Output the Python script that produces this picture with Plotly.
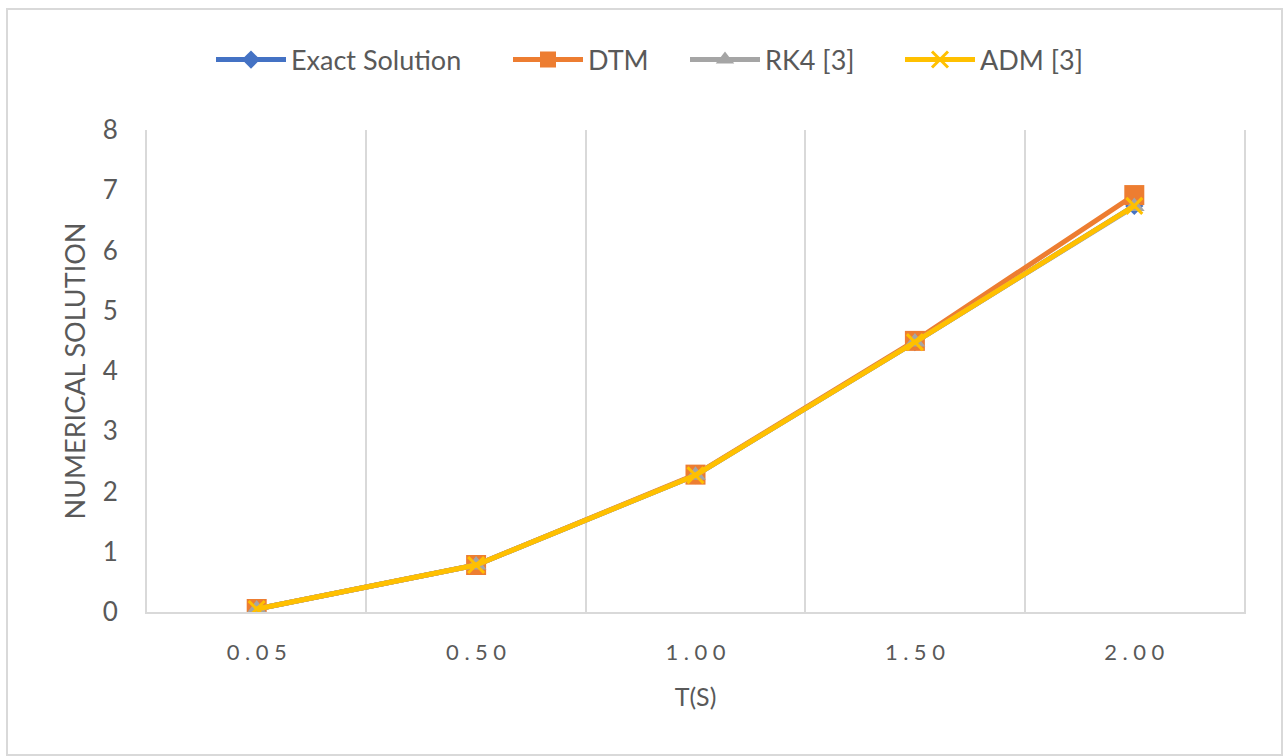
import plotly.graph_objects as go

# Time points (categories on the x axis)
t_labels = ["0.05", "0.50", "1.00", "1.50", "2.00"]

# Numerical solutions for each method
exact_solution = [0.05, 0.78, 2.27, 4.48, 6.74]
dtm = [0.05, 0.78, 2.28, 4.50, 6.92]
rk4 = [0.05, 0.78, 2.27, 4.48, 6.73]
adm = [0.05, 0.78, 2.27, 4.48, 6.74]

series = [
    ("Exact Solution", exact_solution, "#4472C4", "diamond", 14),
    ("DTM", dtm, "#ED7D31", "square", 20),
    ("RK4 [3]", rk4, "#A5A5A5", "triangle-up", 18),
    ("ADM [3]", adm, "#FFC000", "x-thin", 16),
]

# left edge (px) of each legend entry across the top of the chart
legend_left_px = [211, 508, 685, 900]

W, H = 1283, 756
xpos = list(range(len(t_labels)))
# spaced-out tick text
tick_text = ["\u2009\u2009".join(lbl) for lbl in t_labels]

grid_col = "#D9D9D9"
text_col = "#595959"

fig = go.Figure()
legend_layouts = {}
for i, (name, vals, color, symbol, size) in enumerate(series):
    marker = dict(symbol=symbol, size=size, color=color)
    if symbol == "x-thin":
        marker["line"] = dict(color=color, width=3)
    key = "legend" if i == 0 else f"legend{i + 1}"
    fig.add_trace(go.Scatter(
        x=xpos, y=vals, name=name, mode="lines+markers",
        line=dict(color=color, width=5),
        marker=marker, legend=key,
    ))
    legend_layouts[key] = dict(
        orientation="h", xref="container", yref="container",
        x=legend_left_px[i] / W, xanchor="left",
        y=1 - 60 / H, yanchor="middle",
        font=dict(size=27, color=text_col),
        itemwidth=70, bgcolor="rgba(0,0,0,0)",
    )

fig.update_layout(
    width=W, height=H,
    margin=dict(l=147, r=39, t=130, b=144),
    paper_bgcolor="white", plot_bgcolor="white",
    font=dict(family="Lato, Open Sans, sans-serif", color=text_col),
    showlegend=True,
    xaxis=dict(
        range=[-0.5, 4.5],
        tickmode="array", tickvals=xpos, ticktext=tick_text,
        tickfont=dict(size=22, color=text_col),
        showgrid=False, zeroline=False,
        showline=True, linecolor=grid_col, linewidth=2,
        ticks="", ticklabelstandoff=20,
        minor=dict(tick0=0.5, dtick=1, showgrid=True, gridcolor=grid_col, gridwidth=2),
        title=dict(text="T(S)", font=dict(size=25, color=text_col), standoff=24),
    ),
    yaxis=dict(
        range=[0, 8], dtick=1,
        tickfont=dict(size=26, color=text_col),
        showgrid=False, zeroline=False,
        showline=True, mirror=True, linecolor=grid_col, linewidth=2,
        ticks="", ticklabelstandoff=22,
        title=dict(text="NUMERICAL SOLUTION", font=dict(size=27, color=text_col), standoff=9),
    ),
    **legend_layouts,
)

# Chart frame
fig.add_shape(type="rect", xref="paper", yref="paper",
              x0=-140 / 1097, x1=(W - 147 - 1) / 1097, y0=-(H - 612 - 1) / 482, y1=(612 - 9) / 482,
              line=dict(color=grid_col, width=2), layer="below")

fig.write_html("out.html")
